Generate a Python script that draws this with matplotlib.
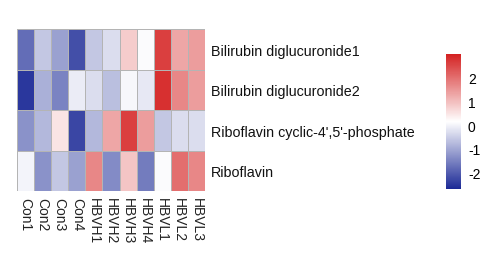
import matplotlib.pyplot as plt
import numpy as np
from matplotlib.colors import LinearSegmentedColormap

plt.rcParams['font.family'] = ['Liberation Sans', 'DejaVu Sans']
plt.rcParams['axes.unicode_minus'] = False

samples = ['Con1', 'Con2', 'Con3', 'Con4', 'HBVH1', 'HBVH2', 'HBVH3', 'HBVH4',
           'HBVL1', 'HBVL2', 'HBVL3']
metabolites = ['Bilirubin diglucuronide1', 'Bilirubin diglucuronide2',
               "Riboflavin cyclic-4',5'-phosphate", 'Riboflavin']

bili1 = [-1.8, -0.6, -1.1, -2.2, -0.6, -0.3, 0.8, 0.1, 2.6, 1.3, 1.4]
bili2 = [-2.5, -0.9, -1.5, -0.1, -0.3, -0.7, 0.05, -0.15, 2.8, 1.7, 1.4]
ribo_cyc = [-1.3, -0.8, 0.5, -2.3, -0.8, 1.3, 2.6, 1.4, -0.6, -0.3, -0.3]
ribo = [0.0, -1.3, -0.6, -1.1, 1.7, -1.4, 0.9, -1.6, 0.1, 2.0, 1.7]

data = np.array([bili1, bili2, ribo_cyc, ribo])

cmap = LinearSegmentedColormap.from_list('nwf', ['#1c2a96', '#ffffff', '#d42222'])
vmin, vmax = -2.7, 3.0

W, H = 488, 255
fig = plt.figure(figsize=(W / 100, H / 100), dpi=100)

ax = fig.add_axes([17 / W, (H - 192) / H, 188 / W, 162 / H])
mesh = ax.pcolormesh(data, cmap=cmap, vmin=vmin, vmax=vmax,
                     edgecolor='#b4b4b4', linewidth=0.6)
ax.set_ylim(len(metabolites), 0)
ax.set_xlim(0, len(samples))
for s in ax.spines.values():
    s.set_visible(False)
ax.set_xticks(np.arange(len(samples)) + 0.5)
ax.set_xticklabels(samples, rotation=270, fontsize=10, color='#222222')
ax.yaxis.tick_right()
ax.set_yticks(np.arange(len(metabolites)) + 0.5)
ax.set_yticklabels(metabolites, fontsize=10.3, color='#111111')
ax.tick_params(length=0, pad=4)

# legend colour bar
cax = fig.add_axes([446 / W, (H - 190) / H, 15 / W, 135 / H])
cb = fig.colorbar(mesh, cax=cax)
cb.outline.set_visible(False)
cb.set_ticks([-2, -1, 0, 1, 2])
cb.ax.tick_params(length=0, labelsize=10, pad=5)

fig.savefig('out.png', dpi=100)
